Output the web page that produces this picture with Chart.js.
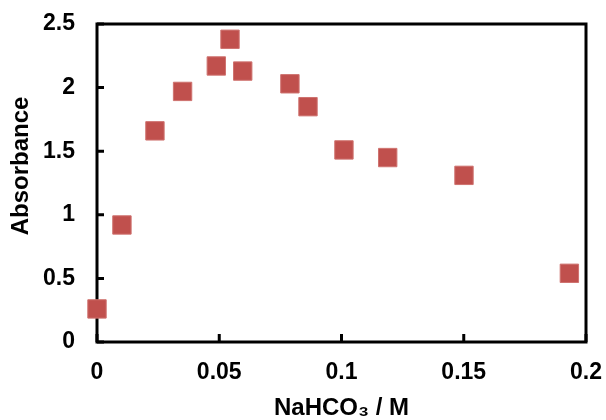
<!DOCTYPE html>
<html>
<head>
<meta charset="utf-8">
<script src="https://cdn.jsdelivr.net/npm/chart.js@4"></script>
<style>
  html, body { margin: 0; padding: 0; background: #fff; }
  #wrap { width: 606px; height: 420px; }
</style>
</head>
<body>
<div id="wrap"><canvas id="myChart" width="606" height="420"></canvas></div>
<script>
// NaHCO3 concentration (M) and measured absorbance
const conc = [0, 0.0102, 0.0237, 0.035, 0.0488, 0.0544, 0.0596, 0.0789, 0.0863, 0.101, 0.1189, 0.1501, 0.1932];
const absorbance = [0.26, 0.92, 1.66, 1.97, 2.17, 2.38, 2.13, 2.03, 1.85, 1.51, 1.45, 1.31, 0.54];
const xTickLabels = ['0', '0.05', '0.1', '0.15', '0.2'];
const yTickLabels = ['0', '0.5', '1', '1.5', '2', '2.5'];
const xTitle = 'NaHCO₃ / M';
const yTitle = 'Absorbance';

const fontFamily = '"Liberation Sans", Arial, sans-serif';

// frame round the plot with inward tick marks, like the Excel original
const framePlugin = {
    id: 'frame',
    beforeDatasetsDraw(chart) {
        const { ctx, chartArea: a, scales } = chart;
        ctx.save();
        ctx.strokeStyle = '#000';
        ctx.lineWidth = 3;
        ctx.beginPath();
        scales.x.ticks.forEach(t => {
            const px = scales.x.getPixelForValue(t.value);
            ctx.moveTo(px, a.bottom);
            ctx.lineTo(px, a.bottom - 8);
        });
        scales.y.ticks.forEach(t => {
            const py = scales.y.getPixelForValue(t.value);
            ctx.moveTo(a.left, py);
            ctx.lineTo(a.left + 7, py);
        });
        ctx.stroke();
        ctx.strokeRect(a.left, a.top, a.right - a.left, a.bottom - a.top);
        ctx.restore();
    },
    afterDraw(chart) {
        const { ctx, chartArea: a } = chart;
        ctx.save();
        ctx.font = 'bold 24px ' + fontFamily;
        ctx.fillStyle = '#000';
        ctx.textAlign = 'center';
        ctx.textBaseline = 'middle';
        // x title under the tick labels
        ctx.fillText(xTitle, (a.left + a.right) / 2, 408);
        // y title sits a little above the middle of the axis
        ctx.translate(21, 166);
        ctx.rotate(-Math.PI / 2);
        ctx.fillText(yTitle, 0, 0);
        ctx.restore();
    }
};

const ctx = document.getElementById('myChart').getContext('2d');

const myChart = new Chart(ctx, {
    type: 'scatter',
    data: {
        datasets: [{
            data: conc.map((x, i) => ({ x: x, y: absorbance[i] })),
            pointStyle: 'rect',
            pointRadius: 13,
            pointHoverRadius: 13,
            backgroundColor: '#C0504D',
            borderColor: '#CF7370',
            borderWidth: 1,
            clip: false
        }]
    },
    options: {
        responsive: false,
        animation: false,
        layout: {
            padding: { left: 0, right: 20, top: 24, bottom: 0 }
        },
        scales: {
            x: {
                type: 'linear',
                min: 0,
                max: 0.2,
                grid: { display: false, drawTicks: false },
                border: { display: false },
                ticks: {
                    stepSize: 0.05,
                    padding: 17,
                    color: '#000',
                    font: { family: fontFamily, size: 23, weight: 'bold' },
                    callback: (v, i) => xTickLabels[i]
                },
                afterFit: (scale) => {
                    scale.height = 78;
                    scale.paddingLeft = 0;
                    scale.paddingRight = 0;
                }
            },
            y: {
                min: 0,
                max: 2.5,
                grid: { display: false, drawTicks: false },
                border: { display: false },
                ticks: {
                    stepSize: 0.5,
                    padding: 22,
                    color: '#000',
                    font: { family: fontFamily, size: 23, weight: 'bold' },
                    callback: (v, i) => yTickLabels[i]
                },
                afterFit: (scale) => {
                    scale.width = 97;
                    scale.paddingTop = 0;
                    scale.paddingBottom = 0;
                }
            }
        },
        plugins: {
            legend: { display: false },
            tooltip: { enabled: false }
        }
    },
    plugins: [framePlugin]
});
</script>
</body>
</html>
